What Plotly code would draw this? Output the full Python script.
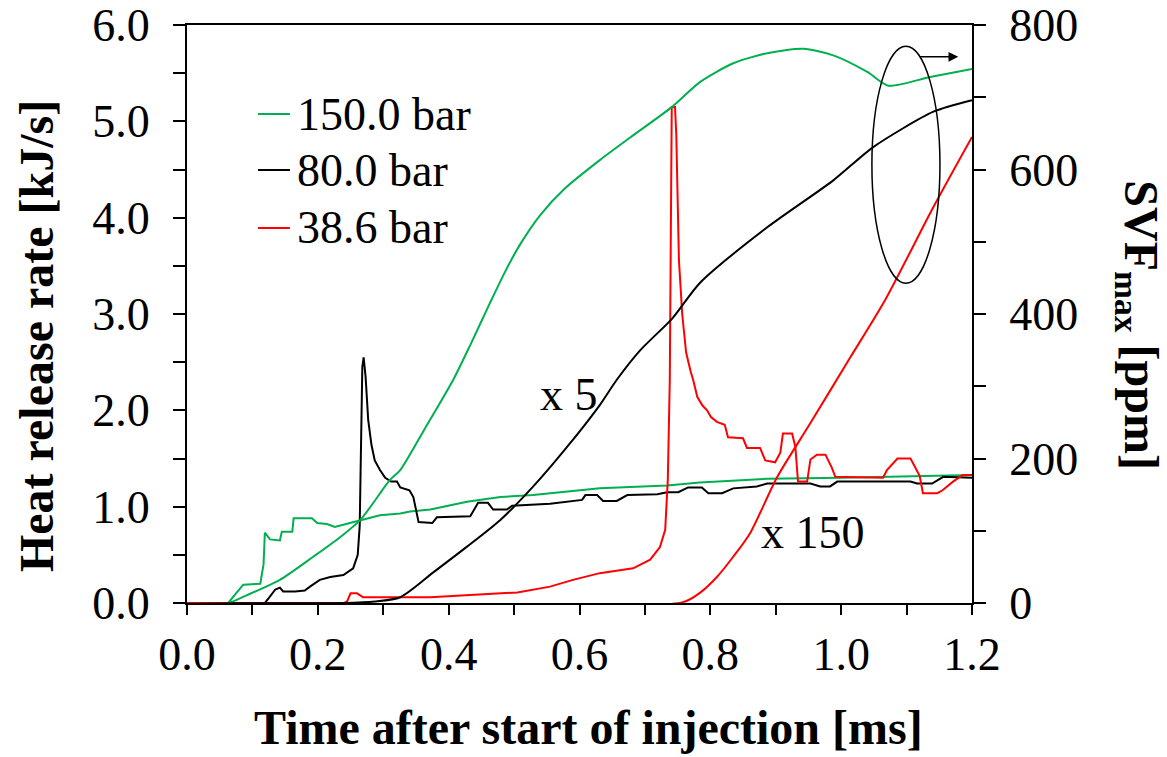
import plotly.graph_objects as go

# ---- Heat release rate [kJ/s] (left axis) ----
t_hrr_150 = [0.0, 0.063, 0.075, 0.086, 0.112, 0.117, 0.119, 0.127, 0.142, 0.145, 0.161, 0.163,
             0.191, 0.199, 0.214, 0.226, 0.249, 0.268, 0.295, 0.326, 0.341, 0.372, 0.428, 0.479,
             0.529, 0.631, 0.734, 0.784, 0.861, 0.887, 1.0, 1.151, 1.2]
hrr_150 = [0.0, 0.0, 0.10, 0.19, 0.20, 0.40, 0.73, 0.66, 0.65, 0.74, 0.74, 0.88,
           0.88, 0.83, 0.82, 0.79, 0.83, 0.86, 0.91, 0.93, 0.95, 0.97, 1.05, 1.10,
           1.12, 1.19, 1.22, 1.25, 1.28, 1.29, 1.30, 1.32, 1.33]

t_hrr_80 = [0.0, 0.119, 0.125, 0.135, 0.142, 0.147, 0.165, 0.180, 0.188, 0.203, 0.219, 0.239,
            0.254, 0.261, 0.264, 0.266, 0.268, 0.270, 0.273, 0.277, 0.282, 0.287, 0.295, 0.303,
            0.312, 0.321, 0.326, 0.340, 0.346, 0.350, 0.354, 0.375, 0.382, 0.433, 0.445, 0.460,
            0.468, 0.489, 0.497, 0.555, 0.604, 0.609, 0.627, 0.636, 0.657, 0.673, 0.719, 0.734,
            0.751, 0.766, 0.787, 0.797, 0.818, 0.835, 0.871, 0.887, 0.953, 0.968, 0.983, 0.994,
            1.106, 1.116, 1.139, 1.156, 1.2]
hrr_80 = [0.0, 0.0, 0.05, 0.14, 0.16, 0.12, 0.12, 0.13, 0.17, 0.24, 0.27, 0.29,
          0.36, 0.50, 0.80, 1.60, 2.45, 2.55, 2.35, 1.90, 1.64, 1.48, 1.38, 1.30,
          1.26, 1.26, 1.20, 1.17, 1.10, 0.97, 0.84, 0.83, 0.89, 0.90, 1.04, 1.04,
          0.97, 0.97, 1.01, 1.03, 1.07, 1.12, 1.12, 1.06, 1.06, 1.12, 1.13, 1.15,
          1.15, 1.20, 1.20, 1.14, 1.14, 1.19, 1.21, 1.24, 1.24, 1.21, 1.21, 1.26,
          1.26, 1.24, 1.24, 1.31, 1.30]

t_hrr_38 = [0.0, 0.240, 0.245, 0.250, 0.260, 0.269, 0.372, 0.428, 0.505, 0.555, 0.590, 0.631,
            0.682, 0.708, 0.723, 0.731, 0.735, 0.738, 0.740, 0.741, 0.746, 0.748, 0.750, 0.752,
            0.757, 0.763, 0.770, 0.774, 0.780, 0.788, 0.795, 0.801, 0.810, 0.822, 0.827, 0.850,
            0.856, 0.876, 0.884, 0.899, 0.907, 0.911, 0.925, 0.930, 0.934, 0.948, 0.953, 0.963,
            0.976, 0.986, 0.991, 1.064, 1.070, 1.086, 1.106, 1.116, 1.120, 1.125, 1.147, 1.155,
            1.171, 1.186, 1.2]
hrr_38 = [0.0, 0.0, 0.02, 0.10, 0.10, 0.06, 0.06, 0.08, 0.11, 0.17, 0.24, 0.31,
          0.36, 0.45, 0.58, 0.76, 1.28, 2.31, 4.00, 5.15, 5.15, 4.85, 4.20, 3.56,
          3.00, 2.60, 2.40, 2.31, 2.14, 2.05, 2.00, 1.93, 1.88, 1.85, 1.72, 1.71,
          1.61, 1.61, 1.48, 1.46, 1.56, 1.76, 1.76, 1.62, 1.26, 1.26, 1.49, 1.54,
          1.54, 1.40, 1.31, 1.30, 1.38, 1.50, 1.50, 1.38, 1.32, 1.14, 1.14, 1.17,
          1.26, 1.33, 1.33]

# ---- Maximum soot volume fraction [ppm] (right axis; 80 bar shown x5, 38.6 bar x150) ----
t_svf_150 = [0.0, 0.063, 0.092, 0.142, 0.193, 0.234, 0.265, 0.310, 0.326, 0.364, 0.407, 0.433,
             0.463, 0.486, 0.509, 0.540, 0.578, 0.631, 0.677, 0.742, 0.784, 0.835, 0.887,
             0.942, 0.988, 1.040, 1.072, 1.136, 1.2]
svf_150 = [0, 0, 11, 32, 64, 91, 115, 170, 184, 242, 309, 357,
           415, 458, 496, 537, 574, 613, 644, 687, 721, 747, 761,
           767, 758, 735, 716, 728, 739]

t_svf_80 = [0.0, 0.240, 0.287, 0.326, 0.376, 0.428, 0.479, 0.529, 0.581, 0.631, 0.657, 0.693,
            0.742, 0.784, 0.887, 0.988, 1.049, 1.141, 1.2]
svf_80 = [0, 0, 2, 8, 42, 78, 115, 161, 216, 274, 309, 350,
          394, 443, 520, 585, 631, 680, 696]

t_svf_38 = [0.0, 0.758, 0.784, 0.810, 0.835, 0.861, 0.902, 0.953, 1.014, 1.067, 1.141, 1.2]
svf_38 = [0, 1, 14, 36, 64, 97, 174, 249, 340, 419, 548, 645]

series_names = ["150.0 bar", "80.0 bar", "38.6 bar"]
series_colors = ["#00b050", "#000000", "#ff0000"]

FONT = "Liberation Serif, Times New Roman, serif"

fig = go.Figure()

hrr_sets = [(t_hrr_150, hrr_150), (t_hrr_80, hrr_80), (t_hrr_38, hrr_38)]
svf_sets = [(t_svf_150, svf_150), (t_svf_80, svf_80), (t_svf_38, svf_38)]

for (tx, vy), name, col in zip(svf_sets, series_names, series_colors):
    fig.add_trace(go.Scatter(x=tx, y=vy, mode="lines", name=name + " SVF",
                             line=dict(color=col, width=2, shape="spline", smoothing=0.7),
                             yaxis="y2", showlegend=False))
for (tx, vy), name, col in zip(hrr_sets, series_names, series_colors):
    fig.add_trace(go.Scatter(x=tx, y=vy, mode="lines", name=name,
                             line=dict(color=col, width=2), showlegend=False))

tick_font = dict(family=FONT, size=46, color="black")

fig.update_layout(
    width=1167, height=757,
    margin=dict(l=187, r=195, t=25, b=154, autoexpand=False),
    paper_bgcolor="white", plot_bgcolor="white",
    showlegend=False,
    xaxis=dict(range=[0, 1.2], dtick=0.2, tickformat=".1f", ticks="outside", ticklen=10,
               tickwidth=1.5, tickcolor="black", showline=True, linecolor="black", linewidth=2,
               mirror=True, showgrid=False, zeroline=False, tickfont=tick_font, automargin=False,
               minor=dict(dtick=0.1, ticks="outside", ticklen=10, tickwidth=1.5, tickcolor="black")),
    yaxis=dict(range=[0, 6], dtick=1, tickformat=".1f", ticks="outside", ticklen=12,
               tickwidth=1.5, tickcolor="black", showline=True, linecolor="black", linewidth=2,
               showgrid=False, zeroline=False, tickfont=tick_font, ticklabelstandoff=14,
               automargin=False,
               minor=dict(dtick=0.5, ticks="outside", ticklen=12, tickwidth=1.5, tickcolor="black")),
    yaxis2=dict(range=[0, 800], dtick=200, overlaying="y", side="right", ticks="outside",
                ticklen=12, tickwidth=1.5, tickcolor="black", showline=True, linecolor="black",
                linewidth=2, showgrid=False, zeroline=False, tickfont=tick_font,
                ticklabelstandoff=14, automargin=False,
                minor=dict(dtick=100, ticks="outside", ticklen=12, tickwidth=1.5, tickcolor="black")),
)

# Axis titles
title_font = dict(family=FONT, size=48, color="black")
fig.add_annotation(text="<b>Time after start of injection [ms]</b>", xref="paper", yref="paper",
                   x=0.511, y=-0.216, xanchor="center", yanchor="middle", showarrow=False,
                   font=title_font)
fig.add_annotation(text="<b>Heat release rate [kJ/s]</b>", xref="paper", yref="paper",
                   x=-0.191, y=0.462, xanchor="center", yanchor="middle", showarrow=False,
                   textangle=-90, font=title_font)
fig.add_annotation(text="<b>SVF<sub>max</sub> [ppm]</b>", xref="paper", yref="paper",
                   x=1.211, y=0.481, xanchor="center", yanchor="middle", showarrow=False,
                   textangle=90, font=title_font)

# Legend drawn as short line segments with labels
legend_y = [0.846, 0.749, 0.649]
for yy, name, col in zip(legend_y, series_names, series_colors):
    fig.add_shape(type="line", xref="paper", yref="paper", x0=0.0904, x1=0.1312, y0=yy, y1=yy,
                  line=dict(color=col, width=2))
    fig.add_annotation(text=name, xref="paper", yref="paper", x=0.1376, y=yy,
                       xanchor="left", yanchor="middle", showarrow=False,
                       font=dict(family=FONT, size=46, color="black"))

# Scale factor labels
fig.add_annotation(text="x 5", x=0.584, y=2.16, xref="x", yref="y", showarrow=False,
                   font=dict(family=FONT, size=46, color="black"))
fig.add_annotation(text="x 150", x=0.957, y=0.727, xref="x", yref="y", showarrow=False,
                   font=dict(family=FONT, size=46, color="black"))

# Ellipse marking the SVF curves and arrow pointing to the right axis
fig.add_shape(type="circle", xref="x", yref="y", x0=1.047, x1=1.151, y0=3.32, y1=5.78,
              line=dict(color="black", width=1.5))
fig.add_annotation(x=1.179, y=5.67, ax=1.118, ay=5.67, xref="x", yref="y", axref="x", ayref="y",
                   showarrow=True, arrowhead=2, arrowsize=1.3, arrowwidth=1.5, arrowcolor="black",
                   text="")

fig.write_html("out.html")
